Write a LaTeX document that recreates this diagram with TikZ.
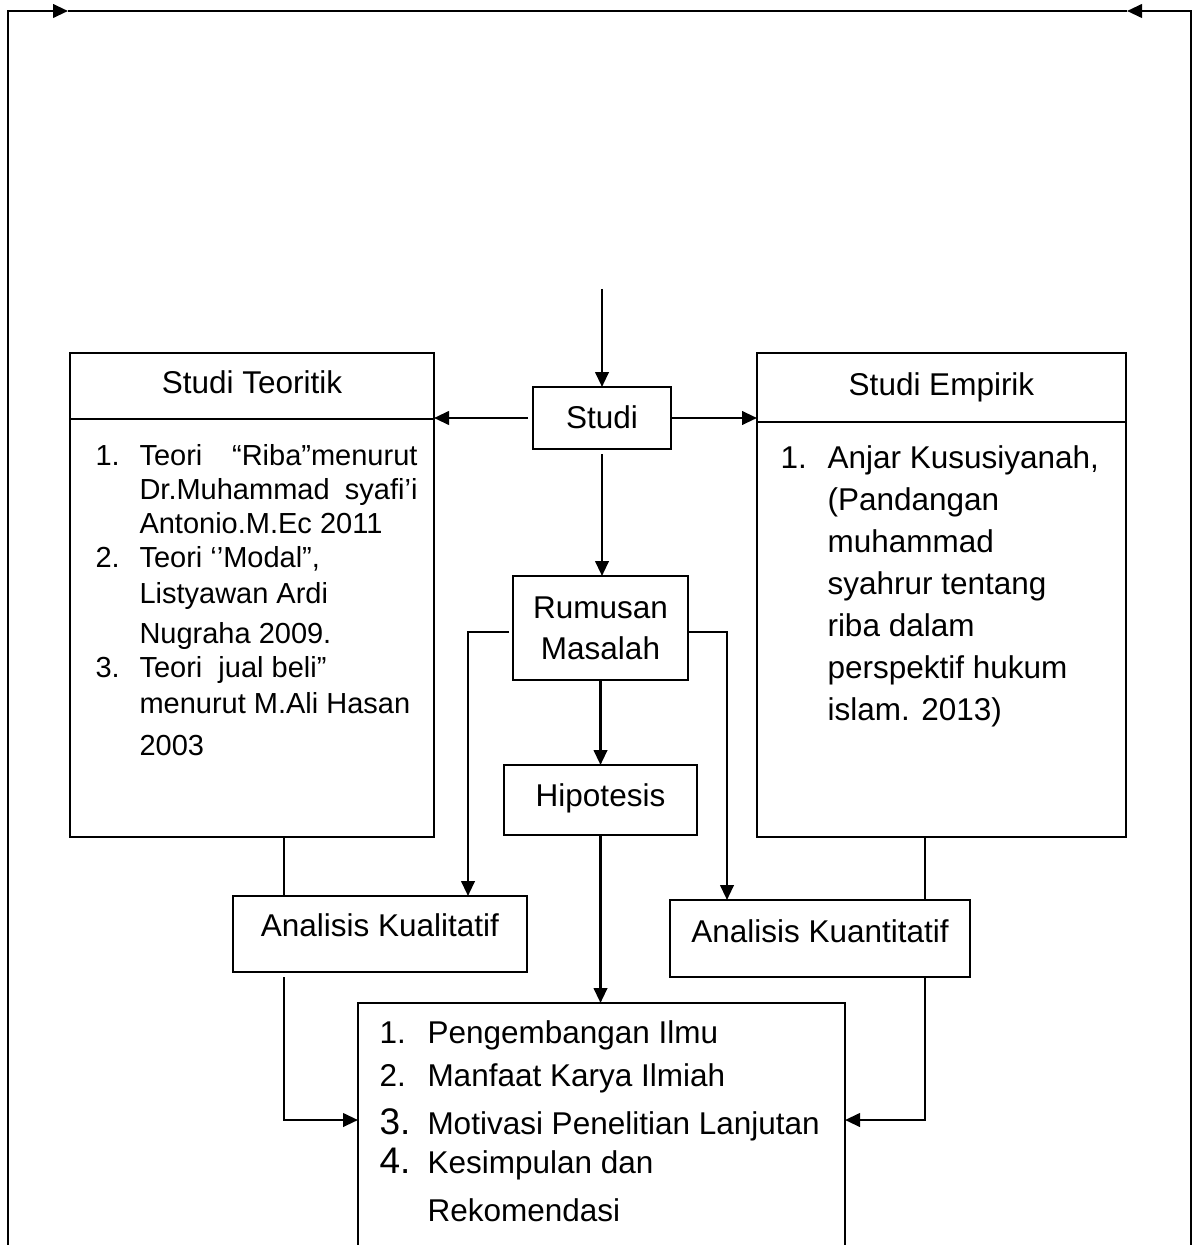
\documentclass[tikz,border=0pt]{standalone}
\usepackage{fontspec}
\setmainfont{Liberation Sans}
\usetikzlibrary{arrows.meta}

\begin{document}
\begin{tikzpicture}[
    x=0.4pt,
    y=-0.4pt,
    font=\fontsize{12.6}{16.4}\selectfont,
    box/.style={draw=black, line width=0.8pt, inner sep=0pt, outer sep=0pt},
    listtext/.style={anchor=base west, inner sep=0pt},
    connector/.style={draw=black, line width=0.8pt},
    flow/.style={draw=black, line width=1pt,
                 -{Triangle[width=5.4pt,length=6pt]}}
]
\useasboundingbox (0,0) rectangle (1196,1245);
\clip (0,0) rectangle (1196,1245);

% Outer return frame, its sides run past the lower edge of the page.
\coordinate (framebl) at (8,1265);
\coordinate (frametl) at (8,11);
\coordinate (frametr) at (1191,11);
\coordinate (framebr) at (1191,1265);
\coordinate (tipleft) at (68,11);
\coordinate (tipright) at (1127,11);
\draw[flow] (framebl) -- (frametl) -- (tipleft);
\draw[connector, line width=1pt] (tipleft) -- (tipright);
\draw[flow] (framebr) -- (frametr) -- (tipright);

% Theory column: title row over an empty body, the list sits on top.
\node[box, minimum width=145.6pt, text height=16pt, text depth=10.4pt]
      (teorihead) at (252,386) {Studi Teoritik};
\node[box, minimum width=145.6pt, minimum height=167.2pt, anchor=north]
      (teoribody) at (teorihead.south) {};
\foreach \y/\n in {465/1.,567/2.,677/3.} {
    \node[listtext, font=\fontsize{11.6}{14}\selectfont]
          (teorinum\n) at (95,\y) {\n};
}
\foreach \y/\t [count=\i] in {
    465/{\makebox[111.2pt][s]{Teori “Riba”menurut}},
    499/{\makebox[111.2pt][s]{Dr.Muhammad syafi’i}},
    533/{Antonio.M.Ec 2011},
    567/{Teori ‘’Modal”,},
    603/{Listyawan Ardi},
    643/{Nugraha 2009.},
    677/{Teori\ \ jual beli”},
    713/{menurut M.Ali Hasan},
    755/{2003}} {
    \node[listtext, font=\fontsize{11.6}{14}\selectfont]
          (teoriline\i) at (139,\y) {\t};
}

% Empirical column.
\node[box, minimum width=147.6pt, text height=16.8pt, text depth=10.8pt]
      (empirikhead) at (941.5,387.5) {Studi Empirik};
\node[box, minimum width=147.6pt, minimum height=166pt, anchor=north]
      (empirikbody) at (empirikhead.south) {};
\node[listtext] (empiriknum) at (780,468) {1.};
\foreach \y/\t [count=\i] in {
    468/{Anjar Kususiyanah,},
    510/{(Pandangan},
    552/{muhammad},
    594/{syahrur tentang},
    636/{riba dalam},
    678/{perspektif hukum},
    720/{islam. 2013)}} {
    \node[listtext] (empirikline\i) at (827,\y) {\t};
}

% Middle chain.
\node[box, minimum width=55.2pt, text height=16.5pt, text depth=8.3pt]
      (studi) at (602,418) {Studi};
\node[box, minimum width=70pt, minimum height=41.6pt, align=center]
      (rumusan) at (600.5,628) {Rumusan\\Masalah};
\node[box, minimum width=77.2pt, text height=16.4pt, text depth=11.6pt]
      (hipotesis) at (600.5,800) {Hipotesis};
\node[box, minimum width=117.6pt, text height=16pt, text depth=14.4pt]
      (kualitatif) at (380,934) {Analisis Kualitatif};
\node[box, minimum width=120pt, text height=16.8pt, text depth=14pt]
      (kuantitatif) at (820,938.5) {Analisis Kuantitatif};

% Outcome box, open towards the bottom edge.
\node[box, minimum width=194.8pt, minimum height=114.8pt]
      (hasil) at (601.5,1146.5) {};
\node[listtext] (hasilnum1) at (379,1043) {1.};
\node[listtext] (hasilnum2) at (379,1086) {2.};
\node[listtext, font=\fontsize{14.8}{17}\selectfont]
      (hasilnum3) at (379,1134) {3.};
\node[listtext, font=\fontsize{14.8}{17}\selectfont]
      (hasilnum4) at (379,1173) {4.};
\foreach \y/\t [count=\i] in {
    1043/{Pengembangan Ilmu},
    1086/{Manfaat Karya Ilmiah},
    1134/{Motivasi Penelitian Lanjutan},
    1173/{Kesimpulan dan},
    1221/{Rekomendasi}} {
    \node[listtext] (hasilline\i) at (427,\y) {\t};
}

% Connectors.
\coordinate (feed) at (602,289);
\coordinate (qualtap) at (468,632);
\coordinate (quanttap) at (727,632);
\coordinate (leftrail) at (284,1120);
\coordinate (rightrail) at (925,1120);

\draw[flow] (feed) -- (studi.north);
\draw[flow, shorten <=2pt] (studi.west) -- (studi.west -| teorihead.east);
\draw[flow] (studi.east) -- (studi.east -| empirikhead.west);
\draw[flow, shorten <=2pt] (studi.south) -- (studi.south |- rumusan.north);
\draw[flow] (rumusan.south) -- (hipotesis.north);
\draw[flow] (hipotesis.south) -- (hipotesis.south |- hasil.north);

\draw[flow, shorten <=1.6pt] (qualtap -| rumusan.west) -- (qualtap)
      -- (qualtap |- kualitatif.north);
\draw[flow] (quanttap -| rumusan.east) -- (quanttap)
      -- (quanttap |- kuantitatif.north);

\draw[connector] (leftrail |- teoribody.south) -- (leftrail |- kualitatif.north);
\draw[flow, shorten <=2pt] (leftrail |- kualitatif.south) -- (leftrail)
      -- (leftrail -| hasil.west);
\draw[connector] (rightrail |- empirikbody.south)
      -- (rightrail |- kuantitatif.north);
\draw[flow] (rightrail |- kuantitatif.south) -- (rightrail)
      -- (rightrail -| hasil.east);
\end{tikzpicture}
\end{document}
